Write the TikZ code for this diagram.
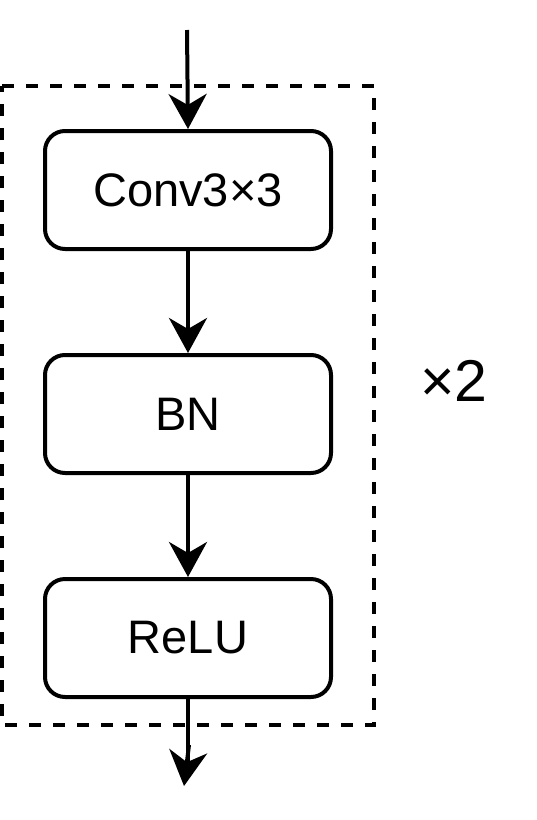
\documentclass[tikz,border=0pt]{standalone}
\usepackage{fontspec}
\setmainfont{Liberation Sans}
\usetikzlibrary{arrows.meta}
\begin{document}
\begin{tikzpicture}[x=1pt,y=-1pt,
  blk/.style={draw=black, line width=4pt, rounded corners=20pt, fill=white,
    minimum width=286pt, minimum height=118pt, inner sep=0pt,
    font=\fontsize{47}{56}\selectfont},
  arr/.style={line width=4pt, -{Stealth[length=35pt,width=38pt,inset=11pt]}},
  grp/.style={draw=black, line width=3.3pt, dash pattern=on 12pt off 12pt}]
\useasboundingbox (0,0) rectangle (536,820);
\draw[grp] (2,86) -- (374,86) -- (374,725) -- (2,725) -- cycle;
\node[blk] (conv) at (188,190) {Conv3×3};
\node[blk] (bn) at (188,414) {BN};
\node[blk] (relu) at (188,638) {ReLU};
\node[font=\fontsize{59}{70}\selectfont, inner sep=0pt] (rep) at (454,381) {×2};
\coordinate (start) at (187,30);
\coordinate (lineend) at (188,765);
\coordinate (tipbase) at (189,745);
\coordinate (finish) at (184,786);
\draw[arr] (start) -- (conv.north);
\draw[arr] (conv.south) -- (bn.north);
\draw[arr] (bn.south) -- (relu.north);
\draw[line width=4pt] (relu.south) -- (lineend);
\draw[arr] (tipbase) -- (finish);
\end{tikzpicture}
\end{document}
